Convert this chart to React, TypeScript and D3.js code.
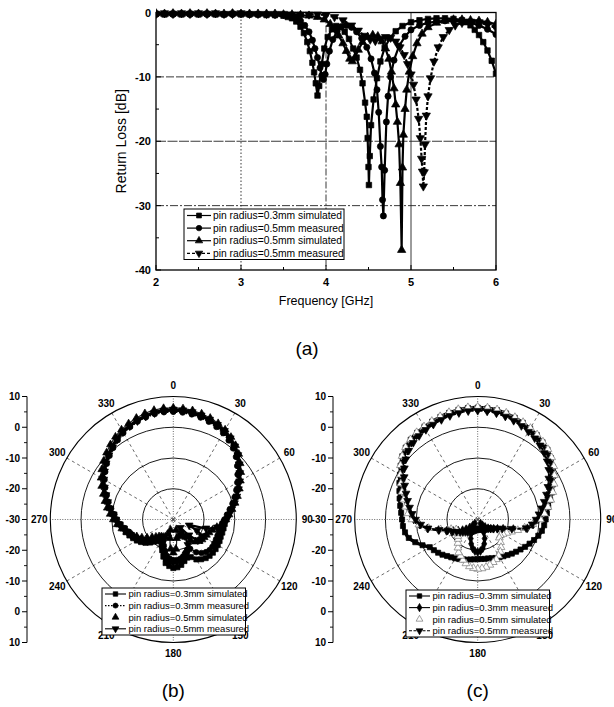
import React from 'react';
import * as d3 from 'd3';

// ---------------- (a) Return loss data ----------------
const freqTicks = [2, 3, 4, 5, 6];
const rlTicks = [0, -10, -20, -30, -40];

const rlSim03: [number, number][] = [
  [2.0, -0.2], [2.1, -0.3], [2.2, -0.2], [2.3, -0.3], [2.4, -0.2], [2.5, -0.3], [2.6, -0.2], [2.7, -0.3], [2.8, -0.3], [2.9, -0.2],
  [3.0, -0.3], [3.1, -0.3], [3.2, -0.3], [3.3, -0.4], [3.4, -0.4], [3.5, -0.5], [3.55, -0.7], [3.6, -0.9], [3.65, -1.4], [3.7, -2.2],
  [3.74, -3.2], [3.78, -4.6], [3.81, -6.0], [3.84, -7.8], [3.86, -9.3], [3.88, -11.0], [3.9, -12.9], [3.92, -11.4], [3.95, -8.0], [3.98, -5.6],
  [4.02, -3.8], [4.07, -2.6], [4.12, -2.1], [4.17, -2.3], [4.22, -3.0], [4.27, -4.1], [4.32, -5.6], [4.36, -7.0], [4.4, -8.9], [4.43, -11.0],
  [4.46, -14.0], [4.48, -16.2], [4.49, -19.5], [4.5, -24.0], [4.505, -26.8], [4.515, -22.3], [4.53, -17.5], [4.56, -13.5], [4.6, -10.2], [4.64, -7.6],
  [4.69, -5.5], [4.75, -4.0], [4.82, -2.9], [4.9, -2.1], [5.0, -1.5], [5.1, -1.2], [5.2, -1.0], [5.3, -0.9], [5.4, -0.9], [5.5, -1.0],
  [5.6, -1.2], [5.65, -1.5], [5.7, -2.0], [5.75, -2.7], [5.8, -3.5], [5.85, -4.6], [5.9, -5.9], [5.95, -7.5], [6.0, -9.5],
];

const rlMeas05a: [number, number][] = [
  [2.0, -0.3], [2.1, -0.2], [2.2, -0.3], [2.3, -0.2], [2.4, -0.3], [2.5, -0.2], [2.6, -0.3], [2.7, -0.2], [2.8, -0.3], [2.9, -0.3],
  [3.0, -0.2], [3.1, -0.3], [3.2, -0.3], [3.3, -0.3], [3.4, -0.4], [3.5, -0.4], [3.6, -0.6], [3.65, -0.9], [3.7, -1.3], [3.75, -2.0],
  [3.8, -3.0], [3.84, -4.3], [3.87, -5.6], [3.9, -7.0], [3.93, -8.6], [3.95, -9.8], [3.97, -10.4], [3.99, -9.6], [4.01, -8.0], [4.04, -6.0],
  [4.08, -4.2], [4.13, -2.9], [4.18, -2.2], [4.24, -2.0], [4.3, -2.3], [4.36, -3.0], [4.42, -4.0], [4.48, -5.4], [4.53, -7.2], [4.57, -9.4],
  [4.6, -12.0], [4.62, -15.5], [4.64, -20.8], [4.655, -24.0], [4.665, -29.1], [4.675, -31.6], [4.69, -24.5], [4.71, -17.0], [4.73, -13.0], [4.76, -10.0],
  [4.8, -7.4], [4.86, -5.2], [4.93, -3.7], [5.0, -2.7], [5.1, -2.0], [5.2, -1.6], [5.3, -1.4], [5.4, -1.3], [5.5, -1.3], [5.6, -1.4],
  [5.7, -1.6], [5.8, -2.0], [5.9, -2.6], [6.0, -3.4],
];

const rlSim05: [number, number][] = [
  [2.0, -0.1], [2.1, -0.2], [2.2, -0.1], [2.3, -0.2], [2.4, -0.1], [2.5, -0.2], [2.6, -0.1], [2.7, -0.2], [2.8, -0.2], [2.9, -0.1],
  [3.0, -0.2], [3.1, -0.2], [3.2, -0.2], [3.3, -0.2], [3.4, -0.2], [3.5, -0.3], [3.6, -0.3], [3.7, -0.4], [3.8, -0.5], [3.9, -0.7],
  [3.98, -1.1], [4.05, -1.8], [4.1, -2.6], [4.15, -3.6], [4.2, -4.8], [4.24, -6.0], [4.28, -7.2], [4.31, -7.6], [4.34, -7.0], [4.38, -5.8],
  [4.43, -4.6], [4.49, -3.8], [4.55, -3.5], [4.61, -3.7], [4.66, -4.5], [4.7, -5.6], [4.74, -7.2], [4.77, -9.2], [4.8, -11.8], [4.82, -14.3],
  [4.84, -17.0], [4.86, -20.5], [4.875, -26.5], [4.89, -36.9], [4.9, -24.1], [4.91, -19.0], [4.93, -15.0], [4.95, -12.0], [4.98, -9.2], [5.02, -6.8],
  [5.07, -4.8], [5.13, -3.3], [5.2, -2.3], [5.3, -1.6], [5.4, -1.3], [5.5, -1.1], [5.6, -1.1], [5.7, -1.2], [5.8, -1.3], [5.9, -1.5], [6.0, -1.8],
];

const rlMeas05b: [number, number][] = [
  [2.0, -0.2], [2.1, -0.1], [2.2, -0.2], [2.3, -0.1], [2.4, -0.2], [2.5, -0.1], [2.6, -0.2], [2.7, -0.1], [2.8, -0.2], [2.9, -0.2],
  [3.0, -0.1], [3.1, -0.2], [3.2, -0.2], [3.3, -0.2], [3.4, -0.2], [3.5, -0.2], [3.6, -0.3], [3.7, -0.3], [3.8, -0.3], [3.9, -0.3],
  [4.0, -0.4], [4.1, -0.7], [4.2, -1.2], [4.3, -2.0], [4.38, -2.8], [4.45, -3.6], [4.52, -4.2], [4.58, -4.4], [4.64, -4.1], [4.7, -3.8],
  [4.76, -3.9], [4.82, -4.5], [4.87, -5.4], [4.92, -6.6], [4.96, -8.0], [5.0, -9.6], [5.03, -11.2], [5.06, -13.5], [5.09, -16.5], [5.11, -19.5],
  [5.125, -22.7], [5.135, -24.7], [5.145, -27.0], [5.155, -24.8], [5.165, -20.5], [5.18, -16.0], [5.2, -13.0], [5.23, -10.2], [5.27, -7.6], [5.32, -5.4],
  [5.38, -3.8], [5.45, -2.7], [5.52, -2.0], [5.6, -1.6], [5.7, -1.4], [5.8, -1.5], [5.9, -1.9], [6.0, -2.4],
];

const legendA = [
  'pin radius=0.3mm simulated',
  'pin radius=0.5mm measured',
  'pin radius=0.5mm simulated',
  'pin radius=0.5mm measured',
];

// ---------------- (b), (c) radiation patterns ----------------
const angleTicks = [0, 30, 60, 90, 120, 150, 180, 210, 240, 270, 300, 330];
const radialTicks = [10, 0, -10, -20, -30, -20, -10, 0, 10];
const ringLevels = [-20, -10, 0, 10];
const angles = d3.range(0, 360, 5);

const legendBC = [
  'pin radius=0.3mm simulated',
  'pin radius=0.3mm measured',
  'pin radius=0.5mm simulated',
  'pin radius=0.5mm measured',
];

const bSim03 = [
  5.5, 5.4, 5.1, 4.8, 4.3, 3.7, 3.0, 1.9, 0.8, -0.6, -2.4, -4.0, -5.4, -6.9, -8.3, -9.7, -11.0, -12.0,
  -12.8, -13.2, -13.4, -13.5, -13.6, -13.4, -13.3, -13.2, -13.2, -13.3, -13.6, -14.2, -15.0, -16.5, -16.8, -16.0, -15.0, -14.4,
  -14.2, -14.8, -15.6, -17.5, -19.4, -21.0, -21.8, -21.6, -20.6, -19.4, -18.2, -17.2, -16.3, -15.6, -14.8, -14.0, -13.2, -12.0,
  -11.0, -10.1, -8.8, -7.6, -6.5, -5.0, -3.6, -2.4, -1.2, -0.2, 0.9, 2.0, 3.0, 3.6, 4.3, 4.9, 5.3, 5.5,
];
const bMeas03 = [
  5.0, 4.9, 4.7, 4.3, 3.8, 3.2, 2.4, 1.4, 0.2, -1.2, -2.9, -4.5, -6.0, -7.4, -8.8, -10.1, -11.4, -12.5,
  -13.4, -14.0, -14.4, -14.6, -14.7, -14.7, -14.6, -14.5, -14.6, -15.0, -15.8, -17.0, -19.0, -19.2, -18.5, -17.6, -17.0, -16.8,
  -16.8, -17.2, -18.0, -19.5, -21.0, -22.4, -23.0, -22.8, -22.0, -20.9, -19.6, -18.5, -17.5, -16.6, -15.7, -14.9, -14.0, -12.8,
  -11.7, -10.8, -9.5, -8.2, -7.0, -5.6, -4.2, -3.0, -1.8, -0.7, 0.4, 1.5, 2.5, 3.2, 3.9, 4.4, 4.8, 5.0,
];
const bSim05 = [
  6.3, 6.2, 6.0, 5.6, 5.1, 4.5, 3.7, 2.7, 1.5, 0.1, -1.6, -3.2, -4.8, -6.3, -7.8, -9.2, -10.6, -11.8,
  -12.9, -14.2, -15.6, -16.8, -17.6, -18.1, -18.4, -18.6, -19.0, -19.8, -21.2, -23.0, -24.5, -24.0, -24.5, -26.5, -23.8, -20.4,
  -19.2, -20.4, -23.8, -26.5, -25.0, -23.8, -23.4, -23.2, -22.8, -22.0, -21.0, -19.6, -18.2, -16.9, -15.6, -14.3, -13.0, -11.7,
  -10.5, -9.4, -8.2, -7.0, -5.8, -4.3, -2.9, -1.6, -0.4, 0.7, 1.8, 2.8, 3.7, 4.4, 5.1, 5.7, 6.1, 6.3,
];
const bMeas05 = [
  5.8, 5.7, 5.5, 5.1, 4.6, 4.0, 3.3, 2.3, 1.1, -0.3, -2.0, -3.6, -5.1, -6.6, -8.0, -9.4, -10.7, -11.8,
  -12.6, -13.6, -15.5, -19.0, -24.5, -21.5, -19.3, -18.8, -19.6, -22.8, -26.5, -23.5, -20.5, -18.8, -17.8, -17.0, -16.4, -16.0,
  -15.9, -16.3, -17.0, -18.3, -19.8, -21.3, -22.3, -22.4, -21.8, -20.6, -19.2, -18.0, -17.0, -16.2, -15.3, -14.5, -13.6, -12.4,
  -11.3, -10.4, -9.1, -7.9, -6.7, -5.3, -3.9, -2.7, -1.5, -0.4, 0.7, 1.8, 2.8, 3.5, 4.1, 4.7, 5.2, 5.6,
];

const cSim03 = [
  6.4, 6.3, 6.1, 5.7, 5.2, 4.7, 4.1, 3.5, 2.8, 2.1, 1.1, -0.2, -1.6, -3.0, -4.3, -5.6, -6.7, -7.4,
  -7.9, -8.3, -8.8, -9.6, -10.5, -11.4, -12.2, -13.0, -13.7, -14.3, -14.9, -15.4, -15.8, -16.2, -16.6, -16.9, -17.0, -17.1,
  -17.1, -17.0, -16.8, -16.5, -16.2, -15.8, -15.4, -15.0, -14.5, -13.8, -13.2, -12.6, -12.0, -10.2, -8.4, -6.8, -6.0, -5.6,
  -5.4, -5.0, -4.4, -3.7, -2.9, -1.9, -0.8, 0.6, 2.0, 3.1, 3.9, 4.4, 4.7, 5.1, 5.5, 5.9, 6.2, 6.4,
];
const cMeas03 = [
  5.8, 5.7, 5.5, 5.1, 4.6, 4.1, 3.5, 2.9, 2.2, 1.4, 0.4, -0.9, -2.4, -3.8, -5.2, -6.6, -7.9, -9.2,
  -10.4, -11.8, -13.6, -18.0, -21.2, -22.9, -24.0, -24.8, -25.6, -26.6, -27.6, -28.4, -27.4, -25.4, -23.4, -21.8, -20.5, -19.7,
  -19.4, -19.7, -20.5, -21.8, -23.4, -25.4, -27.4, -28.4, -27.6, -26.3, -25.1, -24.0, -22.7, -21.2, -19.2, -16.8, -13.4, -11.0,
  -9.2, -8.0, -6.9, -5.8, -4.5, -3.0, -1.6, -0.1, 1.3, 2.4, 3.2, 3.7, 4.1, 4.5, 4.9, 5.3, 5.6, 5.8,
];
const cSim05 = [
  6.6, 6.5, 6.3, 5.9, 5.4, 4.9, 4.3, 3.7, 3.0, 2.3, 1.4, 0.2, -1.2, -2.6, -4.0, -5.4, -6.8, -8.2,
  -9.6, -12.0, -14.5, -16.5, -18.3, -19.6, -20.5, -21.0, -20.8, -19.5, -18.2, -17.2, -16.4, -15.7, -15.2, -14.7, -14.3, -14.0,
  -13.9, -14.1, -14.5, -15.2, -16.0, -16.9, -17.6, -18.8, -20.0, -21.0, -21.6, -22.1, -22.4, -22.3, -20.8, -17.5, -13.8, -10.8,
  -8.6, -7.3, -6.2, -5.1, -3.8, -2.4, -0.9, 0.7, 2.1, 3.2, 4.0, 4.6, 4.9, 5.3, 5.7, 6.1, 6.4, 6.6,
];
const cMeas05 = [
  5.4, 5.3, 5.1, 4.7, 4.2, 3.6, 3.0, 2.3, 1.5, 0.6, -0.5, -1.8, -3.3, -4.8, -6.2, -7.6, -8.9, -10.0,
  -11.0, -12.2, -14.0, -18.5, -21.5, -23.0, -24.2, -25.0, -25.6, -26.0, -26.3, -26.6, -26.7, -26.8, -26.9, -27.0, -27.0, -27.0,
  -27.0, -26.9, -26.7, -26.5, -26.2, -25.9, -25.6, -25.2, -24.8, -24.3, -23.7, -23.0, -22.1, -20.9, -19.6, -17.0, -13.6, -11.4,
  -9.8, -8.6, -7.5, -6.4, -5.2, -3.8, -2.4, -0.9, 0.5, 1.7, 2.6, 3.2, 3.7, 4.1, 4.5, 4.9, 5.2, 5.4,
];

// ---------------- helpers ----------------
const FONT = '"Liberation Sans", Arial, Helvetica, sans-serif';
type Sym = 'square' | 'circle' | 'tri' | 'itri' | 'diamond';

function symPath(s: Sym, size: number): string {
  const t =
    s === 'square' ? d3.symbolSquare :
    s === 'circle' ? d3.symbolCircle :
    s === 'diamond' ? d3.symbolDiamond : d3.symbolTriangle;
  return d3.symbol(t, size)() as string;
}

function Marker({ s, x, y, size, fill, stroke }: { s: Sym; x: number; y: number; size: number; fill: string; stroke: string }) {
  return (
    <path
      d={symPath(s, size)}
      transform={`translate(${x},${y})${s === 'itri' ? ' rotate(180)' : ''}`}
      fill={fill}
      stroke={stroke}
      strokeWidth={0.7}
    />
  );
}

// ---------------- (a) chart ----------------
const A = { l: 156, r: 496, t: 12.5, b: 270 };

function ReturnLoss() {
  const x = d3.scaleLinear().domain([2, 6]).range([A.l, A.r]);
  const y = d3.scaleLinear().domain([-40, 0]).range([A.b, A.t]);
  const line = d3.line<[number, number]>().x(d => x(d[0])).y(d => y(d[1]));
  const series = [
    { data: rlSim03, s: 'square' as Sym, dash: undefined as string | undefined },
    { data: rlMeas05a, s: 'circle' as Sym, dash: undefined },
    { data: rlSim05, s: 'tri' as Sym, dash: undefined },
    { data: rlMeas05b, s: 'itri' as Sym, dash: '3,2' },
  ];
  const minorX = d3.range(2.5, 6, 1);
  const minorY = d3.range(-35, 0, 10);
  const gridX = [
    { v: 3, dash: '1.5,2' },
    { v: 4, dash: '7,2,2,2' },
    { v: 5, dash: undefined as string | undefined },
  ];
  const gridY = [
    { v: -10, dash: '8,2' },
    { v: -20, dash: '10,1.5' },
    { v: -30, dash: '8,2,2,2' },
  ];
  const lg = { x: 184, y: 209, w: 160, h: 50.5 };
  return (
    <g fontFamily={FONT}>
      <defs>
        <clipPath id="clipA">
          <rect x={A.l} y={A.t - 4} width={A.r - A.l} height={A.b - A.t + 4} />
        </clipPath>
      </defs>
      {gridX.map(g => (
        <line key={'gx' + g.v} x1={x(g.v)} x2={x(g.v)} y1={A.t} y2={A.b} stroke="#222" strokeWidth={0.9} strokeDasharray={g.dash} />
      ))}
      {gridY.map(g => (
        <line key={'gy' + g.v} x1={A.l} x2={A.r} y1={y(g.v)} y2={y(g.v)} stroke="#222" strokeWidth={0.9} strokeDasharray={g.dash} />
      ))}
      <g clipPath="url(#clipA)">
        {series.map((sr, i) => (
          <g key={i}>
            <path d={line(sr.data) as string} fill="none" stroke="#000" strokeWidth={2.2} strokeDasharray={sr.dash} />
            {sr.data.map((d, j) => (
              <Marker key={j} s={sr.s} x={x(d[0])} y={y(d[1])} size={30} fill="#000" stroke="#000" />
            ))}
          </g>
        ))}
      </g>
      <rect x={A.l} y={A.t} width={A.r - A.l} height={A.b - A.t} fill="none" stroke="#000" strokeWidth={1.3} />
      {freqTicks.map(t => (
        <g key={'xt' + t}>
          <line x1={x(t)} x2={x(t)} y1={A.b} y2={A.b - 5} stroke="#000" strokeWidth={1} />
          <text x={x(t)} y={A.b + 16} textAnchor="middle" fontSize={11} fontWeight="bold">{t}</text>
        </g>
      ))}
      {minorX.map(t => (
        <line key={'xm' + t} x1={x(t)} x2={x(t)} y1={A.b} y2={A.b - 3} stroke="#000" strokeWidth={1} />
      ))}
      {rlTicks.map(t => (
        <g key={'yt' + t}>
          <line x1={A.l} x2={A.l + 5} y1={y(t)} y2={y(t)} stroke="#000" strokeWidth={1} />
          <text x={A.l - 5} y={y(t) + 4} textAnchor="end" fontSize={11} fontWeight="bold">{t}</text>
        </g>
      ))}
      {minorY.map(t => (
        <line key={'ym' + t} x1={A.l} x2={A.l + 3} y1={y(t)} y2={y(t)} stroke="#000" strokeWidth={1} />
      ))}
      <text x={(A.l + A.r) / 2} y={A.b + 35} textAnchor="middle" fontSize={12.5}>Frequency [GHz]</text>
      <text transform={`translate(${A.l - 30},${(A.t + A.b) / 2}) rotate(-90)`} textAnchor="middle" fontSize={14}>Return Loss [dB]</text>
      <rect x={lg.x} y={lg.y} width={lg.w} height={lg.h} fill="#fff" stroke="#000" strokeWidth={1} />
      {legendA.map((txt, i) => {
        const ly = lg.y + 6.5 + i * 12.6;
        return (
          <g key={'la' + i}>
            <line x1={lg.x + 3} x2={lg.x + 27} y1={ly} y2={ly} stroke="#000" strokeWidth={1.2} strokeDasharray={series[i].dash} />
            <Marker s={series[i].s} x={lg.x + 15} y={ly} size={24} fill="#000" stroke="#000" />
            <text x={lg.x + 29} y={ly + 3.6} fontSize={10.3}>{txt}</text>
          </g>
        );
      })}
      <text x={307} y={355} textAnchor="middle" fontSize={19}>(a)</text>
    </g>
  );
}

// ---------------- polar chart ----------------
type PSeries = { values: number[]; s: Sym; fill: string; stroke: string; lineColor: string; dash?: string; lineWidth: number; size: number };

function Polar({ id, cx, cy, axisX, series, legendX, legendY, label, legendDash }: {
  id: string; cx: number; cy: number; axisX: number; series: PSeries[]; legendX: number; legendY: number; label: string; legendDash: (string | undefined | null)[];
}) {
  const R = 123;
  const r = d3.scaleLinear().domain([-30, 10]).range([0, R]).clamp(true);
  const rad = (a: number) => (a * Math.PI) / 180;
  const lineR = d3.lineRadial<number>()
    .angle((_, i) => rad(angles[i]))
    .radius(d => r(d))
    .curve(d3.curveCatmullRomClosed.alpha(0.5));
  const axisPos = radialTicks.map((v, i) => (i <= 4 ? cy - r(v) : cy + r(v)));
  const minorVals = [5, -5, -15, -25];
  const minorPos = [
    ...minorVals.map(v => cy - r(v)),
    ...minorVals.map(v => cy + r(v)),
  ];
  const labR = 134;
  return (
    <g fontFamily={FONT}>
      <line x1={axisX} x2={axisX} y1={cy - R} y2={cy + R} stroke="#000" strokeWidth={1} />
      {radialTicks.map((v, i) => (
        <g key={id + 'at' + i}>
          <line x1={axisX - 5} x2={axisX} y1={axisPos[i]} y2={axisPos[i]} stroke="#000" strokeWidth={1} />
          <text x={axisX - 7} y={axisPos[i] + 3.5} textAnchor="end" fontSize={10} fontWeight="bold">{v}</text>
        </g>
      ))}
      {minorPos.map((p, i) => (
        <line key={id + 'am' + i} x1={axisX - 3} x2={axisX} y1={p} y2={p} stroke="#000" strokeWidth={0.9} />
      ))}
      <g transform={`translate(${cx},${cy})`}>
        {angleTicks.map(a => (
          <line key={id + 'sp' + a} x1={0} y1={0} x2={R * Math.sin(rad(a))} y2={-R * Math.cos(rad(a))}
            stroke="#444" strokeWidth={0.8} strokeDasharray={a % 90 === 0 ? '1,1.5' : '3,3'} />
        ))}
        {ringLevels.map(v => (
          <circle key={id + 'rg' + v} r={r(v)} fill="none" stroke="#000" strokeWidth={v === 10 ? 1.1 : 0.9} />
        ))}
        {series.map((sr, i) => (
          <g key={id + 's' + i}>
            <path d={lineR(sr.values) as string} fill="none" stroke={sr.lineColor} strokeWidth={sr.lineWidth} strokeDasharray={sr.dash} />
            {sr.values.map((v, j) => (
              <Marker key={j} s={sr.s} x={r(v) * Math.sin(rad(angles[j]))} y={-r(v) * Math.cos(rad(angles[j]))}
                size={sr.size} fill={sr.fill} stroke={sr.stroke} />
            ))}
          </g>
        ))}
      </g>
      {angleTicks.map(a => (
        <text key={id + 'al' + a} x={cx + labR * Math.sin(rad(a))} y={cy - labR * Math.cos(rad(a)) + 3.5}
          textAnchor="middle" fontSize={10} fontWeight="bold">{a}</text>
      ))}
      <rect x={legendX} y={legendY} width={143.5} height={47} fill="#fff" stroke="#000" strokeWidth={1} />
      {legendBC.map((txt, i) => {
        const ly = legendY + 6 + i * 11.6;
        const sr = series[i];
        return (
          <g key={id + 'lg' + i}>
            {legendDash[i] !== null && (
              <line x1={legendX + 3} x2={legendX + 24} y1={ly} y2={ly} stroke={sr.lineColor} strokeWidth={1.1}
                strokeDasharray={legendDash[i] as string | undefined} />
            )}
            <Marker s={sr.s} x={legendX + 13.5} y={ly} size={Math.min(sr.size, 20)} fill={sr.fill} stroke={sr.stroke} />
            <text x={legendX + 26.5} y={ly + 3.3} fontSize={9.5}>{txt}</text>
          </g>
        );
      })}
      <text x={cx} y={697} textAnchor="middle" fontSize={19}>{label}</text>
    </g>
  );
}

export default function App() {
  const seriesB: PSeries[] = [
    { values: bSim03, s: 'square', fill: '#000', stroke: '#000', lineColor: '#000', lineWidth: 3, size: 26 },
    { values: bMeas03, s: 'circle', fill: '#000', stroke: '#000', lineColor: '#000', dash: '1.5,1.5', lineWidth: 2, size: 24 },
    { values: bSim05, s: 'tri', fill: '#000', stroke: '#000', lineColor: '#222', lineWidth: 1.2, size: 26 },
    { values: bMeas05, s: 'itri', fill: '#000', stroke: '#000', lineColor: '#000', lineWidth: 2.2, size: 26 },
  ];
  const seriesC: PSeries[] = [
    { values: cSim03, s: 'square', fill: '#000', stroke: '#000', lineColor: '#000', lineWidth: 3.4, size: 26 },
    { values: cMeas03, s: 'diamond', fill: '#000', stroke: '#000', lineColor: '#000', lineWidth: 2.4, size: 22 },
    { values: cSim05, s: 'tri', fill: '#fff', stroke: '#777', lineColor: '#888', dash: '1.5,1.5', lineWidth: 1.4, size: 26 },
    { values: cMeas05, s: 'itri', fill: '#000', stroke: '#000', lineColor: '#000', dash: '3,1.5', lineWidth: 2, size: 26 },
  ];
  return (
    <svg width={614} height={707} viewBox="0 0 614 707"
      style={{ display: 'block', position: 'absolute', left: 0, top: 0, background: '#fff' }}>
      <rect x={0} y={0} width={614} height={707} fill="#fff" />
      <ReturnLoss />
      <Polar id="b" cx={173.3} cy={519.5} axisX={27} series={seriesB} legendX={102} legendY={588}
        label="(b)" legendDash={[undefined, '1.5,1.5', null, undefined]} />
      <Polar id="c" cx={477.7} cy={519.5} axisX={333} series={seriesC} legendX={406} legendY={590}
        label="(c)" legendDash={[undefined, undefined, null, '3,1.5']} />
    </svg>
  );
}
